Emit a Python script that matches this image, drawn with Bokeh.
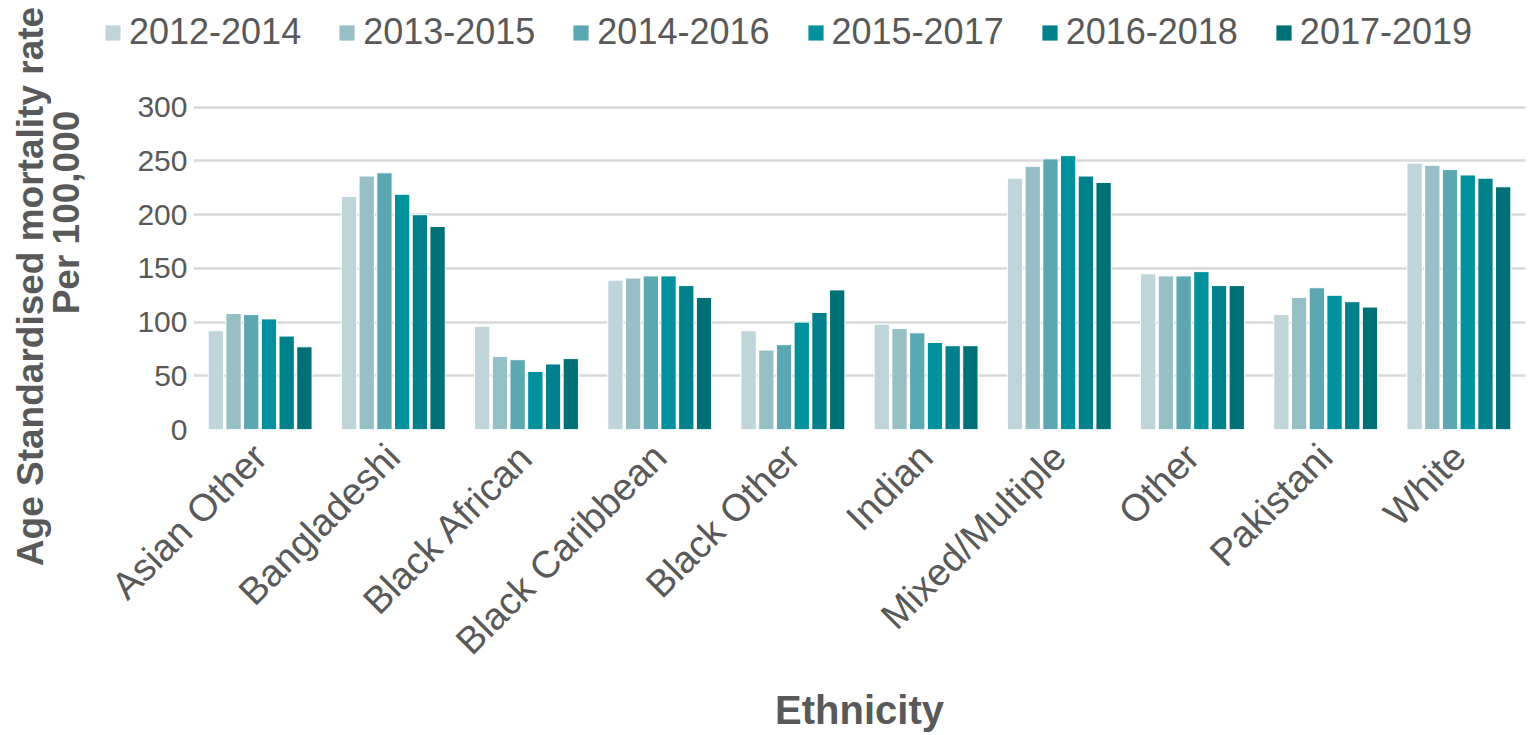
import math
from bokeh.plotting import figure
from bokeh.layouts import column, row
from bokeh.models import (ColumnDataSource, FactorRange, Range1d, FixedTicker,
                          Legend, LegendItem)
from bokeh.core.properties import value
from bokeh.transform import dodge
from bokeh.embed import file_html
from bokeh.resources import INLINE

categories = ["Asian Other", "Bangladeshi", "Black African", "Black Caribbean",
              "Black Other", "Indian", "Mixed/Multiple", "Other", "Pakistani", "White"]
periods = ["2012-2014", "2013-2015", "2014-2016", "2015-2017", "2016-2018", "2017-2019"]

v_2012_2014 = [92, 217, 96, 139, 92, 98, 234, 145, 107, 248]
v_2013_2015 = [108, 236, 68, 141, 74, 94, 245, 143, 123, 246]
v_2014_2016 = [107, 239, 65, 143, 79, 90, 252, 143, 132, 242]
v_2015_2017 = [103, 219, 54, 143, 100, 81, 255, 147, 125, 237]
v_2016_2018 = [87, 200, 61, 134, 109, 78, 236, 134, 119, 234]
v_2017_2019 = [77, 189, 66, 123, 130, 78, 230, 134, 114, 226]

series = [v_2012_2014, v_2013_2015, v_2014_2016, v_2015_2017, v_2016_2018, v_2017_2019]
colors = ["#BFD5DA", "#97C0C6", "#5BA8B2", "#00929C", "#00808A", "#007077"]
y_ticks = [0, 50, 100, 150, 200, 250, 300]
y_title_lines = ["Age Standardised mortality rate", "Per 100,000"]
x_title = "Ethnicity"

TEXT = "#595959"
FONT = "Liberation Sans"

W, H = 1537, 735
TOP_H = 75
LEFT_W = 100
MAIN_H = H - TOP_H
MAIN_W = W - LEFT_W


def blank(fig):
    fig.outline_line_color = None
    fig.background_fill_color = "white"
    fig.border_fill_color = "white"
    fig.xaxis.visible = False
    fig.yaxis.visible = False
    fig.xgrid.visible = False
    fig.ygrid.visible = False
    fig.frame_align = False


# ---------------- main chart ----------------
data = {"cat": categories}
for name, vals in zip(periods, series):
    data[name] = vals
source = ColumnDataSource(data)

p = figure(width=MAIN_W, height=MAIN_H, x_range=FactorRange(*categories),
           y_range=Range1d(0, 329.6), output_backend="svg", toolbar_location=None,
           min_border_left=93, min_border_right=12, min_border_top=0,
           min_border_bottom=304)
p.outline_line_color = None
p.background_fill_color = "white"
p.border_fill_color = "white"
p.frame_align = False

pitch = 0.133
bw = 0.115
for i, (name, col) in enumerate(zip(periods, colors)):
    off = (i - 2.5) * pitch
    p.vbar(x=dodge("cat", off, range=p.x_range), top=name, width=bw,
           source=source, fill_color=col, line_color="white", line_width=1)

p.xgrid.grid_line_color = None
p.ygrid.grid_line_color = "#D9D9D9"
p.ygrid.grid_line_width = 2.5
p.yaxis.ticker = FixedTicker(ticks=y_ticks)

p.yaxis.axis_line_color = None
p.yaxis.major_tick_line_color = None
p.yaxis.minor_tick_line_color = None
p.yaxis.major_tick_out = 0
p.yaxis.major_tick_in = 0
p.yaxis.major_label_standoff = 6
p.yaxis.major_label_text_font = FONT
p.yaxis.major_label_text_font_size = "30px"
p.yaxis.major_label_text_color = TEXT

p.xaxis.axis_line_color = None
p.xaxis.major_tick_line_color = None
p.xaxis.major_tick_out = 0
p.xaxis.major_tick_in = 0
p.xaxis.major_label_standoff = 21
p.xaxis.major_label_orientation = math.pi / 4
p.xaxis.major_label_text_font = FONT
p.xaxis.major_label_text_font_size = "38px"
p.xaxis.major_label_text_color = TEXT
p.xaxis.axis_label = x_title
p.xaxis.axis_label_text_font = FONT
p.xaxis.axis_label_text_font_size = "40px"
p.xaxis.axis_label_text_font_style = "bold"
p.xaxis.axis_label_text_color = TEXT
p.xaxis.axis_label_standoff = 8

# ---------------- left strip (full height) with the y-axis title ----------------
lf = figure(width=LEFT_W, height=H, x_range=Range1d(0, LEFT_W),
            y_range=Range1d(0, H), output_backend="svg", toolbar_location=None,
            min_border=0)
blank(lf)
title_src = ColumnDataSource(dict(x=[30, 66], y=[H - 286, H - 212], t=y_title_lines))
lf.text(x="x", y="y", text="t", source=title_src, angle=math.pi / 2,
        text_align="center", text_baseline="middle", text_font=value(FONT),
        text_font_size="37px", text_font_style="bold", text_color=TEXT)

# ---------------- top strip with the legend ----------------
tf = figure(width=MAIN_W, height=TOP_H, x_range=Range1d(0, 1), y_range=Range1d(0, 1),
            output_backend="svg", toolbar_location=None, min_border=0)
blank(tf)
offscreen = ColumnDataSource(dict(x=[10], top=[10]))
items = []
for name, col in zip(periods, colors):
    r = tf.vbar(x="x", top="top", width=0.1, source=offscreen, fill_color=col,
                line_color=None)
    items.append(LegendItem(label=name, renderers=[r]))
legend = Legend(items=items, orientation="horizontal", location=(3, 22),
                label_text_font=FONT, label_text_font_size="36px",
                label_text_color=TEXT, glyph_width=19, glyph_height=19,
                label_standoff=7, spacing=36, padding=0, margin=0,
                border_line_color=None, background_fill_alpha=0)
tf.add_layout(legend)

layout = row(lf, column(tf, p))
open("out.html", "w").write(file_html(layout, INLINE))
